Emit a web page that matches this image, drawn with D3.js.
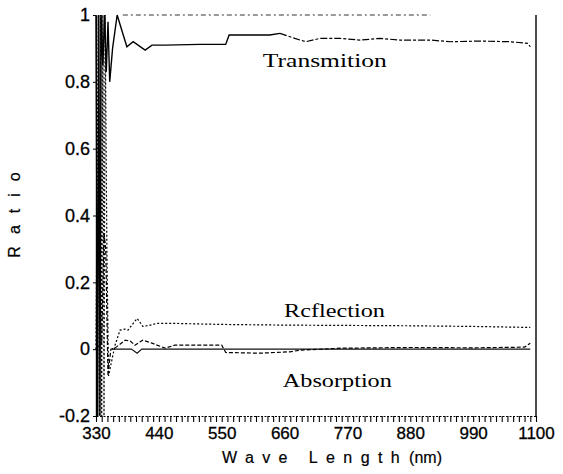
<!DOCTYPE html>
<html><head><meta charset="utf-8">
<script src="https://cdn.jsdelivr.net/npm/d3@7"></script>
<style>
html,body{margin:0;padding:0;background:#fff;}
svg{display:block;}
</style></head>
<body>
<svg id="chart" width="563" height="474"></svg>
<script>
// ---- data ----
const xTickValues = [330, 440, 550, 660, 770, 880, 990, 1100];
const xTickLabels = ["330", "440", "550", "660", "770", "880", "990", "1100"];
const yTickValues = [-0.2, 0, 0.2, 0.4, 0.6, 0.8, 1];
const yTickLabels = ["-0.2", "0", "0.2", "0.4", "0.6", "0.8", "1"];

const transWave  = [330, 333, 335, 337, 339, 342, 345, 348, 351, 354, 359, 367, 384, 395, 416, 428, 451, 512, 557, 563, 634, 652, 678, 697, 722, 757, 792, 827, 862, 915, 950, 1002, 1055, 1086, 1090];
const transValue = [1.0, -0.2, 1.0, -0.2, 1.0, 0.85, 1.0, 0.83, 0.98, 0.8, 0.9, 1.0, 0.905, 0.92, 0.895, 0.91, 0.91, 0.912, 0.912, 0.94, 0.94, 0.945, 0.93, 0.92, 0.93, 0.93, 0.925, 0.93, 0.925, 0.925, 0.92, 0.922, 0.92, 0.915, 0.905];

const reflWave  = [330, 334, 336, 338, 340, 342, 344, 346, 349, 352, 363, 372, 381, 386, 402, 412, 423, 436, 470, 550, 660, 770, 880, 990, 1090];
const reflValue = [0.0, 1.0, -0.2, 1.0, -0.2, 1.0, -0.2, 1.0, 0.3, -0.08, 0.01, 0.057, 0.06, 0.057, 0.092, 0.068, 0.071, 0.077, 0.077, 0.074, 0.072, 0.071, 0.07, 0.068, 0.065];

const absWave  = [330, 340, 344, 347, 351, 356, 363, 381, 390, 398, 412, 428, 451, 468, 550, 557, 617, 669, 687, 760, 880, 990, 1080, 1090];
const absValue = [0.0, 0.02, 0.35, 0.3, -0.08, 0.0, 0.003, 0.027, 0.024, 0.012, 0.027, 0.018, 0.003, 0.012, 0.012, -0.01, -0.012, -0.008, -0.003, 0.003, 0.005, 0.004, 0.006, 0.018];

const baseWave  = [358, 392, 402, 410, 1090];
const baseValue = [0.0, 0.0, -0.012, 0.0, 0.0];

const sumWave  = [377, 915];
const sumValue = [1.0, 1.0];

const labels = [
  {text: "Transmition", wave: 622, value: 0.845, len: 124},
  {text: "Rcflection",  wave: 659, value: 0.096, len: 101},
  {text: "Absorption",  wave: 657, value: -0.112, len: 109}
];

// ---- drawing ----
const svg = d3.select("#chart");
const x = d3.scaleLinear().domain([330, 1100]).range([96, 536]);
const y = d3.scaleLinear().domain([-0.2, 1]).range([416, 15]);

svg.append("defs").append("clipPath").attr("id", "clip")
  .append("rect").attr("x", 94).attr("y", 13).attr("width", 444).attr("height", 405);

const plot = svg.append("g").attr("clip-path", "url(#clip)");
const line = d3.line().x(d => x(d[0])).y(d => y(d[1]));
const zip = (a, b) => a.map((v, i) => [v, b[i]]);

// top dashed (sum) line
plot.append("path").datum(zip(sumWave, sumValue)).attr("d", line)
  .attr("fill", "none").attr("stroke", "#333").attr("stroke-width", 1)
  .attr("stroke-dasharray", "5,3,2,3");

// zero baseline
plot.append("path").datum(zip(baseWave, baseValue)).attr("d", line)
  .attr("fill", "none").attr("stroke", "#111").attr("stroke-width", 1.1);

// transmission: solid on the left, broken dashes further right
const trans = zip(transWave, transValue);
plot.append("path").datum(trans.filter(d => d[0] <= 652)).attr("d", line)
  .attr("fill", "none").attr("stroke", "#000").attr("stroke-width", 1.4);
plot.append("path").datum(trans.filter(d => d[0] >= 652)).attr("d", line)
  .attr("fill", "none").attr("stroke", "#000").attr("stroke-width", 1.2)
  .attr("stroke-dasharray", "7,2,3,2");

// reflection dotted
plot.append("path").datum(zip(reflWave, reflValue)).attr("d", line)
  .attr("fill", "none").attr("stroke", "#000").attr("stroke-width", 1.2)
  .attr("stroke-dasharray", "2,2");

// absorption dashed
plot.append("path").datum(zip(absWave, absValue)).attr("d", line)
  .attr("fill", "none").attr("stroke", "#000").attr("stroke-width", 1.2)
  .attr("stroke-dasharray", "4,2");

// frame right
svg.append("line").attr("x1", 536).attr("x2", 536).attr("y1", y(1)).attr("y2", y(-0.2))
  .attr("stroke", "#000").attr("stroke-width", 1.4);

const sans = "Liberation Sans, Arial, sans-serif";

// left axis
const yAxis = d3.axisLeft(y).tickValues(yTickValues).tickSize(3).tickSizeOuter(0)
  .tickFormat((d, i) => yTickLabels[i]);
const gy = svg.append("g").attr("transform", "translate(96,0)").call(yAxis);
gy.select(".domain").attr("stroke", "#000").attr("stroke-width", 1.4);
gy.selectAll(".tick line").attr("stroke", "#000");
gy.selectAll(".tick text").attr("font-family", sans)
  .attr("font-size", 18).attr("fill", "#000").attr("stroke", "#000").attr("stroke-width", 0.3)
  .attr("x", -6);

// bottom axis: minor ticks every 10 nm
const minorTicks = d3.range(330, 1101, 10);
const xMinor = d3.axisBottom(x).tickValues(minorTicks).tickSize(6).tickSizeOuter(0).tickFormat("");
const gxm = svg.append("g").attr("transform", "translate(0,416)").call(xMinor);
gxm.select(".domain").attr("stroke", "#000").attr("stroke-dasharray", "2,1.5");
gxm.selectAll(".tick line").attr("stroke", "#000").attr("stroke-width", 1.1);

const xAxis = d3.axisBottom(x).tickValues(xTickValues).tickSize(0)
  .tickFormat((d, i) => xTickLabels[i]);
const gx = svg.append("g").attr("transform", "translate(0,416)").call(xAxis);
gx.select(".domain").remove();
gx.selectAll(".tick text").attr("font-family", sans)
  .attr("font-size", 17).attr("fill", "#000").attr("stroke", "#000").attr("stroke-width", 0.3)
  .attr("y", 7).attr("dy", "0.95em");

// axis titles
svg.append("text").attr("transform", "translate(20,209) rotate(-90)")
  .attr("text-anchor", "middle").attr("font-family", sans)
  .attr("font-size", 16).attr("letter-spacing", 12)
  .attr("stroke", "#000").attr("stroke-width", 0.2).text("Ratio");

const xt = svg.append("text").attr("x", 222).attr("y", 463)
  .attr("font-family", sans).attr("font-size", 16)
  .attr("stroke", "#000").attr("stroke-width", 0.2);
xt.append("tspan").attr("letter-spacing", 8.4).text("Wave Length");
xt.append("tspan").attr("dx", 1).text("(nm)");

// series annotations
svg.selectAll("text.lab").data(labels).join("text").attr("class", "lab")
  .attr("x", d => x(d.wave)).attr("y", d => y(d.value))
  .attr("font-family", "Liberation Serif, Times New Roman, serif")
  .attr("font-size", 19).attr("fill", "#000")
  .attr("textLength", d => d.len).attr("lengthAdjust", "spacingAndGlyphs")
  .text(d => d.text);
</script>
</body></html>
